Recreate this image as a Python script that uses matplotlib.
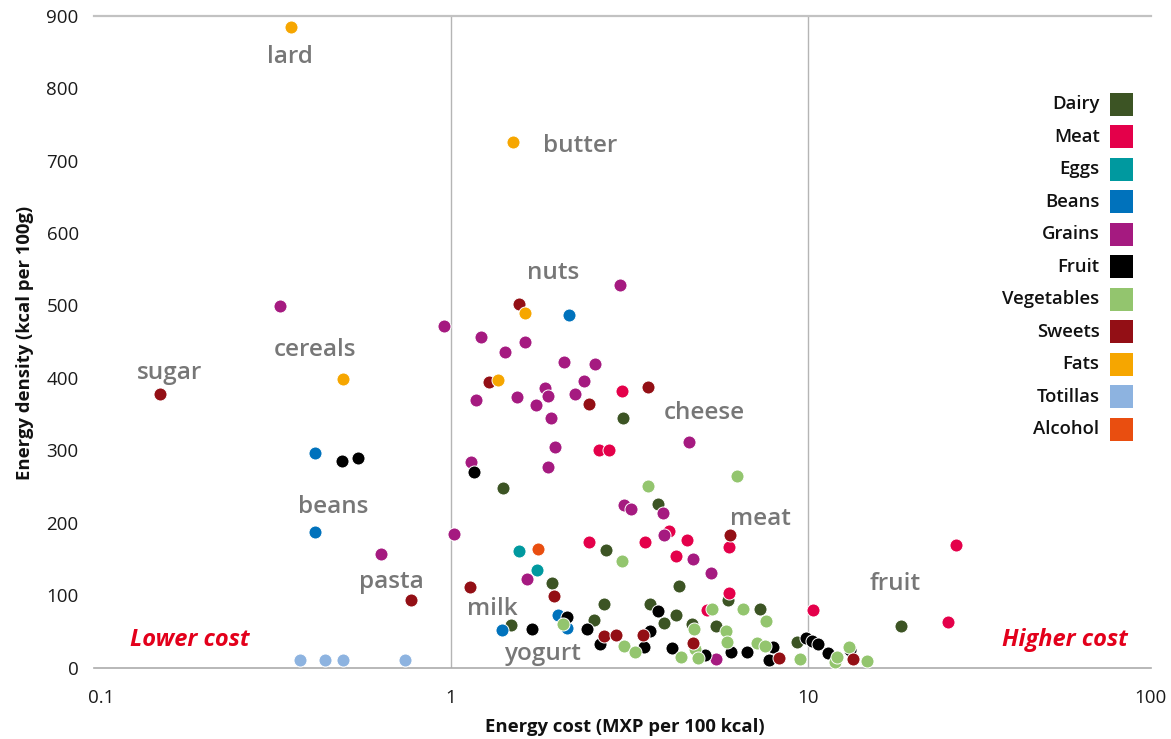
import matplotlib
matplotlib.use("Agg")
import matplotlib.pyplot as plt
from matplotlib.patches import Rectangle
from matplotlib.transforms import ScaledTranslation

plt.rcParams["font.family"] = ["Open Sans", "DejaVu Sans"]

# Energy cost (MXP per 100 kcal) and energy density (kcal per 100 g) per food group
dairy_cost = [3.04, 1.40, 3.81, 2.72, 1.92, 4.34, 5.98, 2.68, 3.61, 4.27, 3.96, 2.52, 1.475, 4.74, 5.54, 7.34, 9.33, 18.2]
dairy_dens = [345, 248, 226, 162, 117, 113, 94, 88, 88, 73, 62, 66, 59, 60, 58, 81, 35, 58]

meat_cost = [3.01, 2.60, 2.77, 4.07, 5.99, 2.44, 3.49, 4.58, 4.27, 6.00, 5.21, 10.3, 26.0, 24.6]
meat_dens = [382, 300, 300, 189, 166, 174, 174, 176, 154, 103, 79, 80, 170, 63]

eggs_cost = [1.55, 1.74]
eggs_dens = [161, 135]

beans_cost = [2.145, 0.415, 0.415, 1.99, 2.11, 1.39]
beans_dens = [487, 296, 188, 73, 55, 52]

grains_cost = [2.97, 0.331, 0.956, 1.213, 1.42, 1.61, 2.07, 2.53, 2.36, 1.172, 1.53, 1.83, 1.87, 2.22,
               1.73, 1.906, 4.63, 1.95, 1.135, 1.87, 3.06, 3.19, 3.93, 3.96, 0.636, 1.02, 4.77, 5.36,
               1.63, 5.54]
grains_dens = [528, 499, 471, 457, 436, 449, 422, 419, 396, 369, 373, 386, 375, 378,
               363, 344, 312, 304, 284, 277, 225, 219, 214, 183, 157, 184, 150, 131,
               122, 12]

fruit_cost = [0.496, 0.549, 1.158, 3.81, 2.11, 1.69, 2.40, 3.61, 2.62, 3.47, 4.17, 5.15, 6.09, 6.73,
              7.96, 7.79, 9.85, 10.26, 10.65, 11.36, 13.15]
fruit_dens = [285, 289, 270, 78, 70, 54, 54, 51, 33, 29, 27, 17, 22, 21,
              28, 11, 41, 37, 33, 20, 24]

veg_cost = [3.57, 6.31, 3.01, 5.40, 6.58, 7.63, 2.06, 4.80, 5.88, 3.06, 3.27, 4.41, 4.84, 4.91,
            5.92, 7.18, 7.59, 9.50, 11.9, 12.03, 13.05, 14.6]
veg_dens = [251, 265, 147, 81, 81, 65, 60, 53, 51, 30, 22, 15, 26, 13,
            36, 34, 30, 12, 8, 15, 29, 9]

sweets_cost = [1.55, 1.278, 3.57, 2.435, 0.153, 0.771, 6.05, 1.133, 1.947, 2.68, 2.90, 3.45, 4.75, 8.30, 13.34]
sweets_dens = [502, 395, 388, 364, 378, 94, 183, 111, 99, 44, 45, 45, 34, 13, 12]

fats_cost = [0.356, 1.488, 0.499, 1.615, 1.351]
fats_dens = [884, 725, 398, 490, 397]

tortillas_cost = [0.377, 0.445, 0.497, 0.745]
tortillas_dens = [10, 10, 10, 10]

alcohol_cost = [1.75]
alcohol_dens = [164]

groups = ["Dairy", "Meat", "Eggs", "Beans", "Grains", "Fruit", "Vegetables", "Sweets", "Fats", "Totillas", "Alcohol"]
colors = ["#3c5424", "#e4004a", "#00999f", "#0072bc", "#a51a80", "#000000", "#93c56e", "#930f15", "#f6a600", "#8db3e0", "#e94e10"]
series = [(dairy_cost, dairy_dens), (meat_cost, meat_dens), (eggs_cost, eggs_dens), (beans_cost, beans_dens),
          (grains_cost, grains_dens), (fruit_cost, fruit_dens), (veg_cost, veg_dens), (sweets_cost, sweets_dens),
          (fats_cost, fats_dens), (tortillas_cost, tortillas_dens), (alcohol_cost, alcohol_dens)]

# Callout labels: (text, cost, density, horizontal alignment)
callouts = [("lard", 0.355, 835, "center"), ("butter", 1.81, 712, "left"), ("nuts", 1.927, 536, "center"),
            ("cereals", 0.416, 430, "center"), ("sugar", 0.163, 398, "center"), ("cheese", 5.11, 343, "center"),
            ("beans", 0.468, 213, "center"), ("pasta", 0.682, 109.6, "center"), ("meat", 7.37, 196.6, "center"),
            ("milk", 1.305, 73.2, "center"), ("yogurt", 1.807, 10.6, "center"), ("fruit", 17.5, 107.3, "center")]

W, H = 1171, 739
fig = plt.figure(figsize=(W / 100, H / 100), dpi=100)
ax = fig.add_axes([94 / W, (H - 667.7) / H, 1071 / W, 652 / H])

ax.set_xscale("log")
ax.set_xlim(0.1, 100)
ax.set_ylim(0, 900)
axis_end = 91.4

for (xs, ys), c, g in zip(series, colors, groups):
    ax.scatter(xs, ys, s=88, color=c, edgecolor="white", linewidth=0.7, zorder=3, clip_on=False, label=g)

# Reference lines at 1 and 10 MXP and the top frame line
for xv in (1, 10):
    ax.plot([xv, xv], [0, 900], color="#b5b5b5", lw=1.0, zorder=1)
ax.plot([0.1, axis_end], [900, 900], color="#c2c2c2", lw=1.6, zorder=1, clip_on=False)

for s in ("top", "right", "left"):
    ax.spines[s].set_visible(False)
ax.spines["bottom"].set_color("#ababab")
ax.spines["bottom"].set_linewidth(1.2)
ax.spines["bottom"].set_bounds(0.1, axis_end)

ax.set_xticks([0.1, 1, 10, 100])
ax.set_xticklabels(["0.1", "1", "10", "100"])
ax.minorticks_off()
ax.set_yticks(range(0, 901, 100))
ax.tick_params(axis="both", length=0, labelsize=13.5, colors="#1a1a1a")
ax.tick_params(axis="y", pad=11)
ax.tick_params(axis="x", pad=15)
xt = ax.get_xticklabels()
xt[0].set_transform(xt[0].get_transform() + ScaledTranslation(0.07, 0, fig.dpi_scale_trans))
xt[3].set_transform(xt[3].get_transform() + ScaledTranslation(-0.15, 0, fig.dpi_scale_trans))

for txt, xv, yv, ha in callouts:
    ax.text(xv, yv, txt, ha=ha, va="baseline", fontsize=17.5, fontweight="semibold", color="#777777", zorder=4)

ax.text(0.186, 30.4, "Lower cost", ha="center", va="baseline", fontsize=17, fontweight="bold",
        style="italic", color="#e3001b")
ax.text(52.5, 30.4, "Higher cost", ha="center", va="baseline", fontsize=17, fontweight="bold",
        style="italic", color="#e3001b")

fig.text(625 / W, 1 - 727 / H, "Energy cost (MXP per 100 kcal)", ha="center", va="center",
         fontsize=13.3, fontweight="bold", color="#111111")
fig.text(25.5 / W, 1 - 343 / H, "Energy density (kcal per 100g)", ha="center", va="center", rotation=90,
         fontsize=13.3, fontweight="bold", color="#111111")

# Legend: labels to the left of square swatches
for i, (g, c) in enumerate(zip(groups, colors)):
    yc = 104.2 + i * 32.5
    fig.patches.append(Rectangle((1110 / W, 1 - (yc + 11.5) / H), 23 / W, 23 / H,
                                 transform=fig.transFigure, facecolor=c, edgecolor="none"))
    fig.text(1099.5 / W, 1 - yc / H, g, ha="right", va="center", fontsize=13.3,
             fontweight="semibold", color="#111111")

fig.savefig("out.png", dpi=100, facecolor="white")
